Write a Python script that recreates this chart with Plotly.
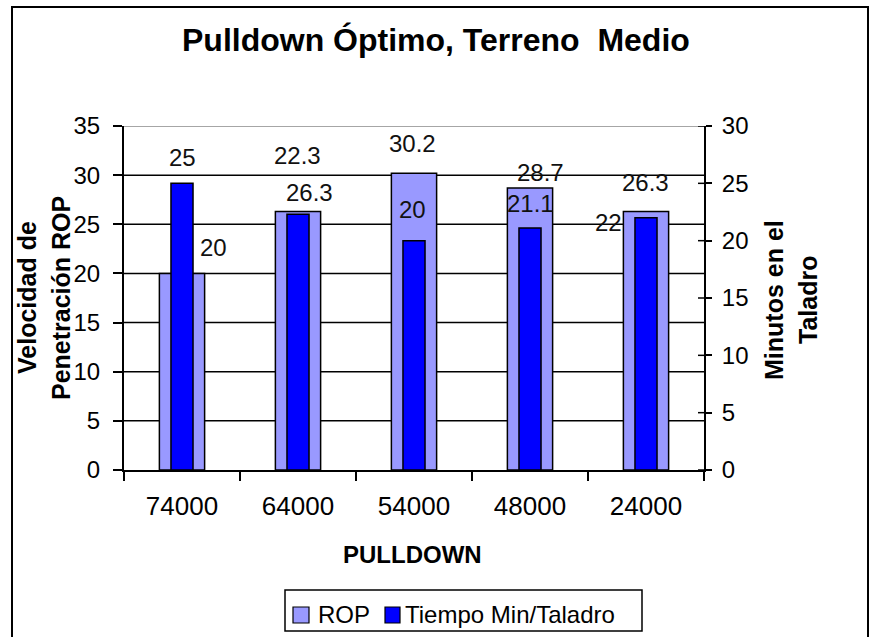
import plotly.graph_objects as go

# Pulldown categories and the two measured series
pulldown = ["74000", "64000", "54000", "48000", "24000"]
rop = [20, 26.3, 30.2, 28.7, 26.3]            # velocidad de penetración (eje izquierdo)
tiempo = [25, 22.3, 20, 21.1, 22]             # minutos en el taladro (eje derecho)
rop_ticks = [0, 5, 10, 15, 20, 25, 30, 35]
tiempo_ticks = [0, 5, 10, 15, 20, 25, 30]

# Label offsets in pixels (dx, dy) relative to the bar top
rop_lbl_off = [(31, 26), (11, 19), (-2, 30), (10, 15), (-1, 29)]
tiempo_lbl_off = [(0, 26), (-1, 59), (-2, 31), (0, 25), (-38, -5)]

W, H = 870, 637
L, R, T, B = 124, 704, 126, 470           # plot area in pixels
PW, PH = R - L, B - T

FONT = "Liberation Sans, Arial, sans-serif"
ROP_COLOR = "#9999FF"
TIEMPO_COLOR = "#0000FF"


def px(xp):
    return (xp - L) / PW


def py(yp):
    return (B - yp) / PH


fig = go.Figure()
fig.add_trace(go.Bar(
    x=pulldown, y=rop, name="ROP", width=0.39,
    marker=dict(color=ROP_COLOR, line=dict(color="black", width=1.5)),
    xaxis="x", yaxis="y", showlegend=False, hoverinfo="x+y",
))
fig.add_trace(go.Bar(
    x=pulldown, y=tiempo, name="Tiempo Min/Taladro", width=0.19,
    marker=dict(color=TIEMPO_COLOR, line=dict(color="black", width=1.5)),
    xaxis="x", yaxis="y2", showlegend=False, hoverinfo="x+y",
))

annotations = []
# data labels (x given as category index)
for i, (v, (dx, dy)) in enumerate(zip(rop, rop_lbl_off)):
    annotations.append(dict(x=i, y=v, xref="x", yref="y", text=f"{v:g}",
                            showarrow=False, xanchor="center", yanchor="middle",
                            xshift=dx, yshift=dy,
                            font=dict(family=FONT, size=24, color="#111")))
for i, (v, (dx, dy)) in enumerate(zip(tiempo, tiempo_lbl_off)):
    annotations.append(dict(x=i, y=v, xref="x", yref="y2", text=f"{v:g}",
                            showarrow=False, xanchor="center", yanchor="middle",
                            xshift=dx, yshift=dy,
                            font=dict(family=FONT, size=24, color="#111")))

# title
annotations.append(dict(x=px(436), y=py(40), xref="paper", yref="paper",
                        text="<b>Pulldown Óptimo, Terreno  Medio</b>", showarrow=False,
                        xanchor="center", yanchor="middle",
                        font=dict(family=FONT, size=32, color="black")))
# axis titles
annotations.append(dict(x=px(412), y=py(554), xref="paper", yref="paper",
                        text="<b>PULLDOWN</b>", showarrow=False,
                        xanchor="center", yanchor="middle",
                        font=dict(family=FONT, size=24, color="black")))
for text, xc in (("<b>Velocidad de</b>", 27), ("<b>Penetración ROP</b>", 61)):
    annotations.append(dict(x=px(xc), y=py(298), xref="paper", yref="paper",
                            text=text, showarrow=False, textangle=-90,
                            xanchor="center", yanchor="middle",
                            font=dict(family=FONT, size=25, color="black")))
for text, xc in (("<b>Minutos en el</b>", 774), ("<b>Taladro</b>", 808)):
    annotations.append(dict(x=px(xc), y=py(300), xref="paper", yref="paper",
                            text=text, showarrow=False, textangle=-90,
                            xanchor="center", yanchor="middle",
                            font=dict(family=FONT, size=25, color="black")))

# legend text
for text, xl in (("ROP", 316), ("Tiempo Min/Taladro", 403)):
    annotations.append(dict(x=px(xl), y=py(614), xref="paper", yref="paper",
                            text=text, showarrow=False,
                            xanchor="left", yanchor="middle",
                            font=dict(family=FONT, size=24, color="black")))

shapes = [
    # outer chart frame
    dict(type="rect", xref="paper", yref="paper",
         x0=px(12), x1=px(868), y0=py(700), y1=py(7),
         line=dict(color="black", width=2), fillcolor="rgba(0,0,0,0)", layer="below"),
    # legend box and swatches
    dict(type="rect", xref="paper", yref="paper",
         x0=px(285), x1=px(642), y0=py(631), y1=py(590),
         line=dict(color="black", width=1.5), fillcolor="white"),
    dict(type="rect", xref="paper", yref="paper",
         x0=px(293), x1=px(309), y0=py(623), y1=py(607),
         line=dict(color="black", width=1.2), fillcolor=ROP_COLOR),
    dict(type="rect", xref="paper", yref="paper",
         x0=px(385), x1=px(400), y0=py(623), y1=py(607),
         line=dict(color="black", width=1.2), fillcolor=TIEMPO_COLOR),
]
# horizontal gridlines, kept beneath the bars
for t in rop_ticks[1:]:
    shapes.append(dict(type="line", xref="paper", yref="y", layer="below",
                       x0=0, x1=1, y0=t, y1=t,
                       line=dict(color="#888888" if t == rop_ticks[-1] else "black",
                                 width=1.5)))
# inner half of the crossing tick marks on the right axis
for t in tiempo_ticks:
    shapes.append(dict(type="line", xref="paper", yref="y2",
                       x0=px(R - 6), x1=1, y0=t, y1=t,
                       line=dict(color="black", width=1.5)))

tick_font = dict(family=FONT, size=24, color="black")

fig.update_layout(
    width=W, height=H,
    margin=dict(l=L, r=W - R, t=T, b=H - B, pad=0),
    paper_bgcolor="white", plot_bgcolor="rgba(0,0,0,0)",
    barmode="overlay", showlegend=False,
    xaxis=dict(type="category", categoryorder="array", categoryarray=pulldown,
               range=[-0.5, len(pulldown) - 0.5],
               showline=True, linecolor="black", linewidth=2,
               ticks="outside", tickson="boundaries", ticklen=9, tickwidth=1.5,
               tickcolor="black", showgrid=False, tickangle=0,
               tickfont=dict(family=FONT, size=26, color="black"),
               ticklabelstandoff=12),
    yaxis=dict(range=[0, 35], tickvals=rop_ticks, showline=True, linecolor="black",
               linewidth=2, ticks="outside", ticklen=9, tickwidth=1.5, tickcolor="black",
               showgrid=False, zeroline=False,
               tickfont=tick_font, ticklabelstandoff=8),
    yaxis2=dict(range=[0, 30], tickvals=tiempo_ticks, overlaying="y", side="right",
                anchor="x", showline=True, linecolor="black", linewidth=2,
                ticks="outside", ticklen=6, tickwidth=1.5, tickcolor="black",
                showgrid=False, zeroline=False, tickfont=tick_font,
                ticklabelstandoff=5),
    annotations=annotations,
    shapes=shapes,
)

fig.write_html("out.html")
